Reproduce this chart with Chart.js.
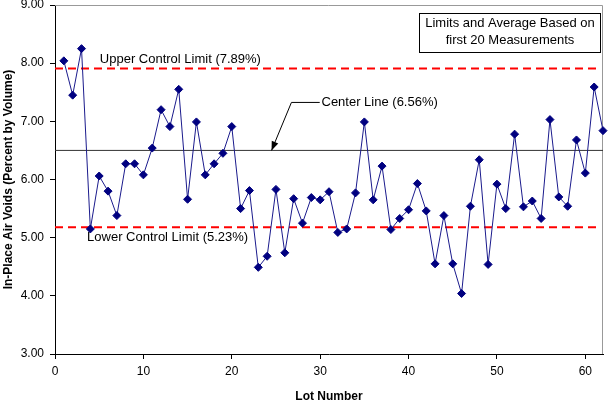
<!DOCTYPE html>
<html>
<head>
<meta charset="utf-8">
<script src="https://cdn.jsdelivr.net/npm/chart.js@4.4.1/dist/chart.umd.min.js"></script>
<style>
  html, body { margin: 0; padding: 0; background: #fff; }
</style>
</head>
<body>
<canvas id="controlChart" width="612" height="404"></canvas>
<script>
// lot numbers and measured in-place air voids (% by volume)
const lotNumbers = [
  1, 2, 3, 4, 5, 6, 7, 8, 9, 10, 11, 12, 13, 14, 15, 16, 17, 18, 19, 20,
  21, 22, 23, 24, 25, 26, 27, 28, 29, 30, 31, 32, 33, 34, 35, 36, 37, 38, 39, 40,
  41, 42, 43, 44, 45, 46, 47, 48, 49, 50, 51, 52, 53, 54, 55, 56, 57, 58, 59, 60,
  61, 62
];
const airVoids = [
  8.04, 7.45, 8.25, 5.15, 6.06, 5.80, 5.38, 6.27, 6.27, 6.08,
  6.54, 7.20, 6.91, 7.55, 5.66, 6.99, 6.08, 6.27, 6.45, 6.91,
  5.50, 5.81, 4.49, 4.68, 5.83, 4.74, 5.67, 5.25, 5.69, 5.65,
  5.79, 5.09, 5.15, 5.77, 6.99, 5.65, 6.23, 5.14, 5.33, 5.48,
  5.93, 5.46, 4.55, 5.38, 4.55, 4.04, 5.54, 6.34, 4.54, 5.92,
  5.50, 6.78, 5.53, 5.63, 5.33, 7.03, 5.70, 5.54, 6.68, 6.11,
  7.59, 6.84
];

// control limits as drawn
const upperLimit = 7.91;
const centerValue = 6.50;
const lowerLimit = 5.18;
const limitSpan = [0, 61.3];
const centerSpan = [0, 62];

const xTicks = [0, 10, 20, 30, 40, 50, 60];
const yTicks = [3, 4, 5, 6, 7, 8, 9];

const FONT = "Arial, 'Liberation Sans', sans-serif";

function spanPoints(span, value) {
  return span.map(x => ({ x: x, y: value }));
}

// text labels, arrow and note box, placed in data units
const annotationPlugin = {
  id: 'annotations',
  afterDatasetsDraw(chart) {
    const ctx = chart.ctx;
    const xs = chart.scales.x;
    const ys = chart.scales.y;
    const px = v => xs.getPixelForValue(v);
    const py = v => ys.getPixelForValue(v);

    ctx.save();
    ctx.fillStyle = '#000';
    ctx.font = '13px ' + FONT;
    ctx.textBaseline = 'middle';
    ctx.textAlign = 'left';
    ctx.fillText('Upper Control Limit (7.89%)', px(5.07), py(8.06));
    ctx.fillText('Lower Control Limit (5.23%)', px(3.63), py(5.01));
    ctx.fillText('Center Line (6.56%)', px(30.15), py(7.325));

    // arrow to center line
    ctx.strokeStyle = '#000';
    ctx.lineWidth = 1;
    const ax = px(26.75), ay = py(7.325);
    const tx = px(24.5), ty = py(6.50);
    ctx.beginPath();
    ctx.moveTo(px(29.95), ay);
    ctx.lineTo(ax, ay);
    ctx.lineTo(tx, ty);
    ctx.stroke();
    const ang = Math.atan2(ty - ay, tx - ax);
    const len = 9, half = 3.5;
    ctx.beginPath();
    ctx.moveTo(tx, ty);
    ctx.lineTo(tx - len * Math.cos(ang) + half * Math.sin(ang), ty - len * Math.sin(ang) - half * Math.cos(ang));
    ctx.lineTo(tx - len * Math.cos(ang) - half * Math.sin(ang), ty - len * Math.sin(ang) + half * Math.cos(ang));
    ctx.closePath();
    ctx.fill();

    // note box
    const bx1 = Math.round(px(41.16)) + 0.5, bx2 = Math.round(px(61.7)) + 0.5;
    const by1 = Math.round(py(8.858)) + 0.5, by2 = Math.round(py(8.2)) + 0.5;
    ctx.fillStyle = '#fff';
    ctx.fillRect(bx1, by1, bx2 - bx1, by2 - by1);
    ctx.strokeRect(bx1, by1, bx2 - bx1, by2 - by1);
    ctx.fillStyle = '#000';
    ctx.textAlign = 'center';
    const cx = (bx1 + bx2) / 2;
    ctx.fillText('Limits and Average Based on', cx, py(8.68));
    ctx.fillText('first 20 Measurements', cx, py(8.383));
    ctx.restore();
  },
  beforeDatasetsDraw(chart) {
    // gray frame on top and right of the plot area
    const { ctx, chartArea: a } = chart;
    ctx.save();
    ctx.strokeStyle = '#999';
    ctx.lineWidth = 1;
    ctx.beginPath();
    ctx.moveTo(a.left, a.top + 0.5);
    ctx.lineTo(a.right - 0.5, a.top + 0.5);
    ctx.lineTo(a.right - 0.5, a.bottom);
    ctx.stroke();
    ctx.restore();
  }
};

new Chart(document.getElementById('controlChart'), {
  type: 'scatter',
  data: {
    datasets: [
      {
        label: 'Air Voids',
        data: lotNumbers.map((lot, i) => ({ x: lot, y: airVoids[i] })),
        showLine: true,
        borderColor: '#1a1a8c',
        borderWidth: 1,
        pointStyle: 'rectRot',
        pointRadius: 4,
        pointBackgroundColor: '#000080',
        pointBorderColor: '#000080',
        pointBorderWidth: 1,
        clip: false
      },
      {
        label: 'UCL',
        data: spanPoints(limitSpan, upperLimit),
        showLine: true,
        borderColor: '#ff0000',
        borderWidth: 2,
        borderDash: [8, 5],
        pointRadius: 0
      },
      {
        label: 'LCL',
        data: spanPoints(limitSpan, lowerLimit),
        showLine: true,
        borderColor: '#ff0000',
        borderWidth: 2,
        borderDash: [8, 5],
        pointRadius: 0
      },
      {
        label: 'Center',
        data: spanPoints(centerSpan, centerValue),
        showLine: true,
        borderColor: '#333',
        borderWidth: 1,
        pointRadius: 0
      }
    ]
  },
  options: {
    responsive: false,
    animation: false,
    layout: { padding: { top: 4, right: 9, left: 0, bottom: 0 } },
    plugins: {
      legend: { display: false },
      tooltip: { enabled: false }
    },
    scales: {
      x: {
        type: 'linear',
        min: 0,
        max: 62,
        afterBuildTicks: scale => { scale.ticks = xTicks.map(v => ({ value: v })); },
        afterFit: scale => { scale.height = 50; scale.paddingLeft = 0; scale.paddingRight = 0; },
        grid: { drawOnChartArea: false, drawTicks: true, tickLength: 5, tickColor: '#000' },
        border: { display: true, color: '#000', width: 1 },
        ticks: { color: '#000', padding: 5, font: { family: FONT, size: 12 }, maxRotation: 0 },
        title: {
          display: true,
          text: 'Lot Number',
          color: '#000',
          padding: { top: 0, bottom: 0 },
          font: { family: FONT, size: 12, weight: 'bold' }
        }
      },
      y: {
        min: 3,
        max: 9,
        afterBuildTicks: scale => { scale.ticks = yTicks.map(v => ({ value: v })); },
        afterFit: scale => { scale.width = 55; scale.paddingTop = 0; scale.paddingBottom = 0; },
        grid: { drawOnChartArea: false, drawTicks: true, tickLength: 5, tickColor: '#000' },
        border: { display: true, color: '#000', width: 1 },
        ticks: {
          color: '#000',
          padding: 6,
          font: { family: FONT, size: 12 },
          callback: v => v.toFixed(2)
        },
        title: {
          display: true,
          text: 'In-Place Air Voids (Percent by Volume)',
          color: '#000',
          padding: { top: 1, bottom: 0 },
          font: { family: FONT, size: 12, weight: 'bold' }
        }
      }
    }
  },
  plugins: [annotationPlugin]
});
</script>
</body>
</html>
